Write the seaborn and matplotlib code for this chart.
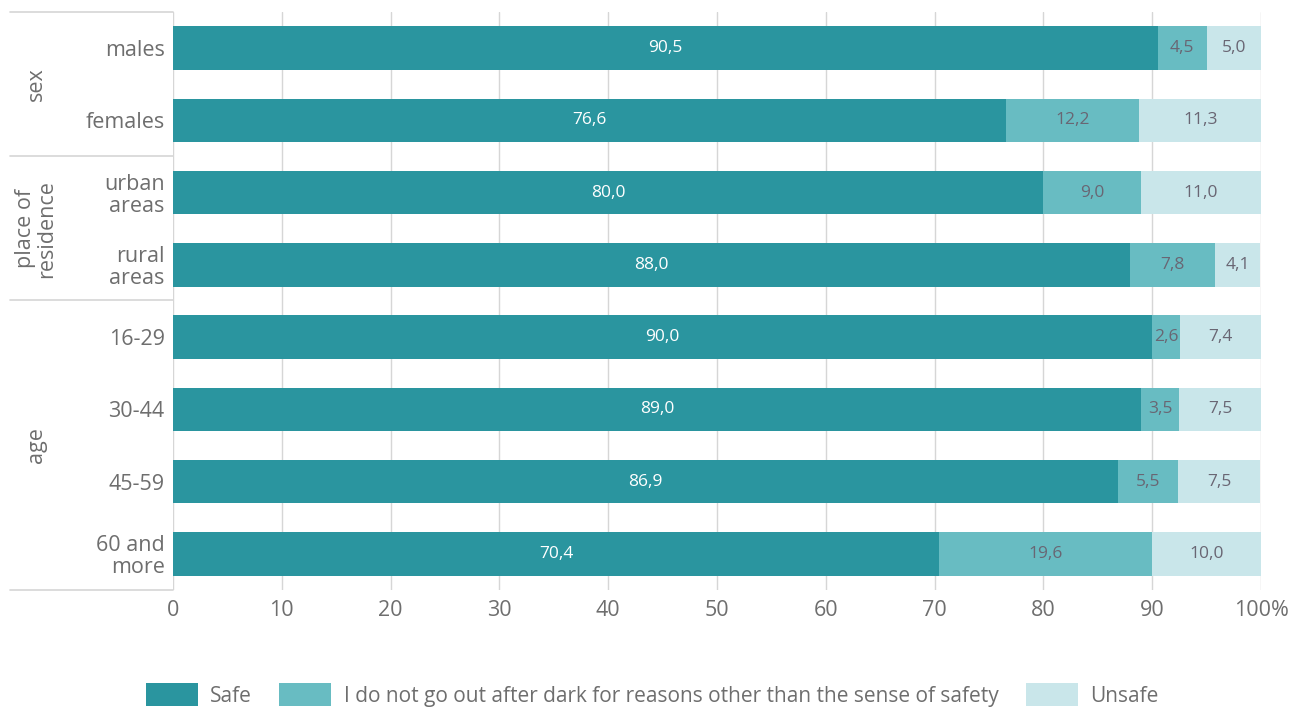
"""
Stacked horizontal bar chart: sense of safety after dark by sex, place of residence and age.
"""
import matplotlib
matplotlib.use('Agg')
import matplotlib.pyplot as plt
from matplotlib.lines import Line2D
from matplotlib.patches import Patch
import numpy as np
import pandas as pd
import seaborn as sns

# ============================================================
# DATA
# ============================================================
categorias = ['males', 'females', 'urban\nareas', 'rural\nareas',
              '16-29', '30-44', '45-59', '60 and\nmore']
seguro = [90.5, 76.6, 80.0, 88.0, 90.0, 89.0, 86.9, 70.4]
no_sale = [4.5, 12.2, 9.0, 7.8, 2.6, 3.5, 5.5, 19.6]
inseguro = [5.0, 11.3, 11.0, 4.1, 7.4, 7.5, 7.5, 10.0]

grupos = ['sex', 'place of\nresidence', 'age']
tamanos_grupo = [2, 2, 4]

series = ['Safe',
          'I do not go out after dark for reasons other than the sense of safety',
          'Unsafe']
ticks_x = [0, 10, 20, 30, 40, 50, 60, 70, 80, 90, 100]
etiquetas_x = ['0', '10', '20', '30', '40', '50', '60', '70', '80', '90', '100%']

# ============================================================
# COLORES
# ============================================================
COLOR_SEGURO = '#2A959F'
COLOR_NO_SALE = '#68BCC2'
COLOR_INSEGURO = '#C9E6EA'
COLOR_TEXTO = '#6E6E6E'
COLOR_ETIQUETA = '#696673'
COLOR_LINEA = '#D6D6D6'

sns.set_theme(style='white')
plt.rcParams['font.family'] = ['Open Sans', 'DejaVu Sans']

df = pd.DataFrame({
    'categoria': categorias,
    'seguro': seguro,
    'no_sale': no_sale,
    'inseguro': inseguro,
})
df['acum_2'] = df['seguro'] + df['no_sale']
df['acum_3'] = df['acum_2'] + df['inseguro']

W, H = 1299, 711
fig = plt.figure(figsize=(W / 100, H / 100), dpi=100)
ax = fig.add_axes([173 / W, 1 - 590 / H, (1261 - 173) / W, (590 - 12) / H])

# Barras apiladas: se dibujan los acumulados de mayor a menor
for col, color in [('acum_3', COLOR_INSEGURO), ('acum_2', COLOR_NO_SALE), ('seguro', COLOR_SEGURO)]:
    sns.barplot(data=df, x=col, y='categoria', orient='h', color=color,
                width=0.6, saturation=1, ax=ax, zorder=3, linewidth=0)

# Etiquetas de valores
y_pos = np.arange(len(categorias))
for i in y_pos:
    s, n, u = df.loc[i, 'seguro'], df.loc[i, 'no_sale'], df.loc[i, 'inseguro']
    ax.text(s / 2, i, f'{s:.1f}'.replace('.', ','), ha='center', va='center',
            color='white', fontsize=12.5, zorder=4)
    ax.text(s + n / 2, i, f'{n:.1f}'.replace('.', ','), ha='center', va='center',
            color=COLOR_ETIQUETA, fontsize=12.5, zorder=4)
    ax.text(s + n + u / 2, i, f'{u:.1f}'.replace('.', ','), ha='center', va='center',
            color=COLOR_ETIQUETA, fontsize=12.5, zorder=4)

ax.set_xlim(0, 100)
ax.set_ylim(len(categorias) - 0.5, -0.5)
ax.set_xticks(ticks_x)
ax.set_xticklabels(etiquetas_x)
ax.set_xlabel('')
ax.set_ylabel('')
ax.tick_params(axis='both', length=0, labelsize=15.5, labelcolor=COLOR_TEXTO)
ax.tick_params(axis='x', pad=7)
ax.tick_params(axis='y', pad=6)
for lbl in ax.get_yticklabels():
    lbl.set_linespacing(1.05)
ax.xaxis.grid(True, color=COLOR_LINEA, linewidth=1, zorder=0)
ax.set_axisbelow(True)
for lado in ['top', 'right', 'bottom', 'left']:
    ax.spines[lado].set_visible(False)

# Separadores de grupos y nombres de grupo
lineas_y = [12, 156, 300, 590]
for y in lineas_y:
    fig.add_artist(Line2D([10 / W, 173 / W], [1 - y / H, 1 - y / H],
                          color=COLOR_LINEA, linewidth=1.2))
inicio = 0
alto_fila = (590 - 12) / len(categorias)
for grupo, n in zip(grupos, tamanos_grupo):
    centro = 12 + alto_fila * (inicio + n / 2)
    fig.text(36 / W, 1 - centro / H, grupo, rotation=90, ha='center', va='center',
             fontsize=15.5, color=COLOR_TEXTO, linespacing=1.0)
    inicio += n

# Leyenda
handles = [Patch(facecolor=c, edgecolor='none')
           for c in [COLOR_SEGURO, COLOR_NO_SALE, COLOR_INSEGURO]]
fig.legend(handles, series, loc='center', bbox_to_anchor=(0.502, 1 - 695 / H),
           ncol=3, frameon=False, fontsize=15, labelcolor=COLOR_TEXTO,
           handlelength=2.5, handleheight=1.3, columnspacing=1.3, handletextpad=0.6,
           borderpad=0.2)

fig.savefig('out.png', dpi=100, facecolor='white')
plt.close(fig)
